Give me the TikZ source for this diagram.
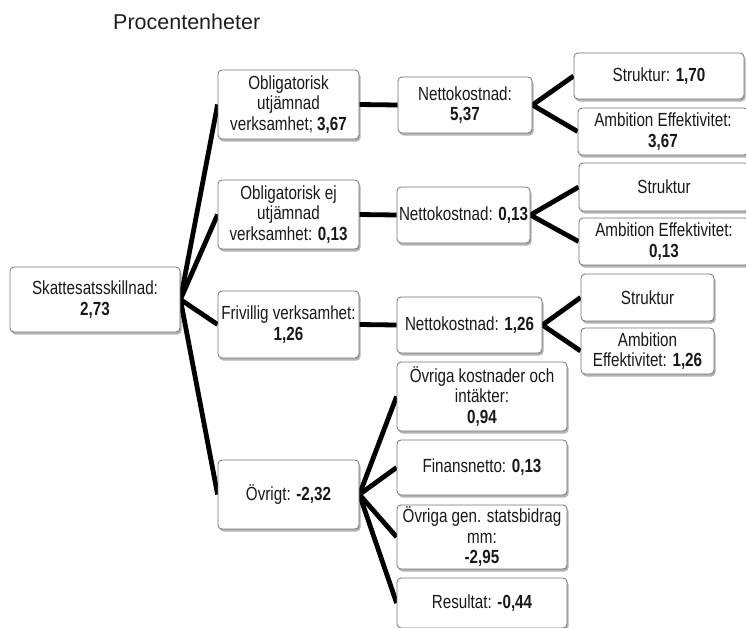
\documentclass[tikz,border=0pt]{standalone}
\usepackage{fontspec}
\newfontfamily\condfont{Liberation Sans}[FakeStretch=0.8]
\newfontfamily\titlefont{Liberation Sans}
\usetikzlibrary{shadows}
\pgfdeclarelayer{bg}
\pgfsetlayers{bg,main}
\begin{document}
\begin{tikzpicture}[x=1pt,y=-1pt,
  box/.style={draw=black!55, line width=0.8pt, rounded corners=4pt, fill=white,
    align=center, inner sep=0pt, text=black!90,
    font=\condfont\fontsize{19}{20.5}\selectfont,
    drop shadow={shadow xshift=1.5pt, shadow yshift=-2.5pt, opacity=0.3, fill=black}},
  conn/.style={line width=4.8pt, black},
  titletext/.style={font=\titlefont\fontsize{21.5}{24}\selectfont, text=black!88, inner sep=0pt, anchor=base west}
]
\useasboundingbox (0,0) rectangle (746,627);

\node[titletext] (title) at (113,29) {Procentenheter};

\node[box, minimum width=170pt, minimum height=65pt] (root) at (95,299.5) {Skattesatsskillnad:\\\textbf{2,73}};

\node[box, minimum width=141pt, minimum height=69pt] (A) at (288.5,104.5) {Obligatorisk\\utjämnad\\verksamhet; \textbf{3,67}};
\node[box, minimum width=141pt, minimum height=69pt] (B) at (288.5,214.5) {Obligatorisk ej\\utjämnad\\verksamhet: \textbf{0,13}};
\node[box, minimum width=141pt, minimum height=67pt] (C) at (288.5,324.5) {Frivillig verksamhet:\\\textbf{1,26}};
\node[box, minimum width=141pt, minimum height=69pt] (D) at (288.5,494.5) {Övrigt: \textbf{-2,32}};

\node[box, minimum width=134pt, minimum height=56pt] (A2) at (465,105) {Nettokostnad:\\\textbf{5,37}};
\node[box, minimum width=133pt, minimum height=56pt] (B2) at (463.5,215) {Nettokostnad: \textbf{0,13}};
\node[box, minimum width=145pt, minimum height=56pt] (C2) at (469.5,325) {Nettokostnad: \textbf{1,26}};

\node[box, minimum width=170pt, minimum height=46pt] (A3a) at (659,76) {Struktur: \textbf{1,70}};
\node[box, minimum width=170pt, minimum height=47pt] (A3b) at (663,131.5) {Ambition Effektivitet:\\\textbf{3,67}};
\node[box, minimum width=170pt, minimum height=48pt] (B3a) at (664,187) {Struktur};
\node[box, minimum width=170pt, minimum height=47pt] (B3b) at (664,241.5) {Ambition Effektivitet:\\\textbf{0,13}};
\node[box, minimum width=133pt, minimum height=47pt] (C3a) at (647.5,297.5) {Struktur};
\node[box, minimum width=133pt, minimum height=46pt] (C3b) at (647.5,351) {Ambition\\Effektivitet: \textbf{1,26}};

\node[box, minimum width=170pt, minimum height=69pt] (D1) at (482,396.5) {Övriga kostnader och\\intäkter:\\\textbf{0,94}};
\node[box, minimum width=170pt, minimum height=55pt] (D2) at (482,467.5) {Finansnetto: \textbf{0,13}};
\node[box, minimum width=170pt, minimum height=64pt] (D3) at (482,537) {Övriga gen. statsbidrag\\mm:\\\textbf{-2,95}};
\node[box, minimum width=170pt, minimum height=50pt] (D4) at (482,603) {Resultat: \textbf{-0,44}};

\begin{pgfonlayer}{bg}
\draw[conn] (root.east) -- (A.west);
\draw[conn] (root.east) -- (B.west);
\draw[conn] (root.east) -- (C.west);
\draw[conn] (root.east) -- (D.west);
\draw[conn] (A.east) -- (A2.west);
\draw[conn] (B.east) -- (B2.west);
\draw[conn] (C.east) -- (C2.west);
\draw[conn] (A2.east) -- (A3a.west);
\draw[conn] (A2.east) -- (A3b.west);
\draw[conn] (B2.east) -- (B3a.west);
\draw[conn] (B2.east) -- (B3b.west);
\draw[conn] (C2.east) -- (C3a.west);
\draw[conn] (C2.east) -- (C3b.west);
\draw[conn] (D.east) -- (D1.west);
\draw[conn] (D.east) -- (D2.west);
\draw[conn] (D.east) -- (D3.west);
\draw[conn] (D.east) -- (D4.west);
\end{pgfonlayer}
\end{tikzpicture}
\end{document}
